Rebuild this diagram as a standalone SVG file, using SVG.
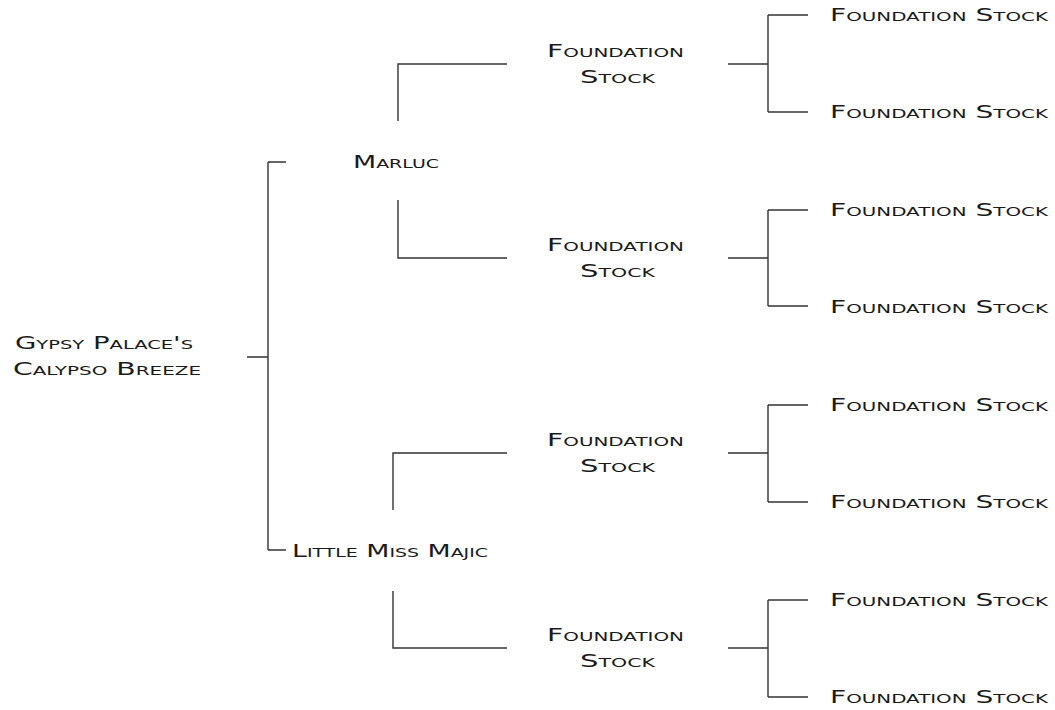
<svg xmlns="http://www.w3.org/2000/svg" width="1055" height="710" viewBox="0 0 1055 710">
<style>
text{font-family:"DejaVu Sans","Liberation Sans",sans-serif;font-size:17px;font-variant:small-caps;fill:#1a1a1a}
.c path{fill:none;stroke:#333;stroke-width:1.4}
</style>
<rect width="1055" height="710" fill="#fff"/>
<g class="c" id="connectors">
<path d="M247 357H268M268 162V550M268 162H286M268 550H286"/>
<path d="M398 121V64H507M398 200V258H507"/>
<path d="M393 510V453H507M393 591V648H507"/>
<path d="M728 64H768M768 15V112M768 15H808M768 112H808"/>
<path d="M728 258H768M768 210V306M768 210H808M768 306H808"/>
<path d="M728 453H768M768 405V502M768 405H808M768 502H808"/>
<path d="M728 648H768M768 600V697M768 600H808M768 697H808"/>
</g>
<g id="root"><text x="15" y="349" textLength="178" lengthAdjust="spacingAndGlyphs">Gypsy Palace's</text><text x="13" y="375" textLength="188" lengthAdjust="spacingAndGlyphs">Calypso Breeze</text></g>
<g id="marluc"><text x="353" y="168" textLength="86" lengthAdjust="spacingAndGlyphs">Marluc</text></g>
<g id="majic"><text x="292" y="557" textLength="196" lengthAdjust="spacingAndGlyphs">Little Miss Majic</text></g>
<g id="fs1"><text x="547" y="57" textLength="137" lengthAdjust="spacingAndGlyphs">Foundation</text><text x="580" y="83" textLength="75" lengthAdjust="spacingAndGlyphs">Stock</text></g>
<g id="fs2"><text x="547" y="251" textLength="137" lengthAdjust="spacingAndGlyphs">Foundation</text><text x="580" y="277" textLength="75" lengthAdjust="spacingAndGlyphs">Stock</text></g>
<g id="fs3"><text x="547" y="446" textLength="137" lengthAdjust="spacingAndGlyphs">Foundation</text><text x="580" y="472" textLength="75" lengthAdjust="spacingAndGlyphs">Stock</text></g>
<g id="fs4"><text x="547" y="641" textLength="137" lengthAdjust="spacingAndGlyphs">Foundation</text><text x="580" y="667" textLength="75" lengthAdjust="spacingAndGlyphs">Stock</text></g>
<g id="g1"><text x="830" y="21" textLength="218" lengthAdjust="spacingAndGlyphs">Foundation Stock</text></g>
<g id="g2"><text x="830" y="118" textLength="218" lengthAdjust="spacingAndGlyphs">Foundation Stock</text></g>
<g id="g3"><text x="830" y="216" textLength="218" lengthAdjust="spacingAndGlyphs">Foundation Stock</text></g>
<g id="g4"><text x="830" y="313" textLength="218" lengthAdjust="spacingAndGlyphs">Foundation Stock</text></g>
<g id="g5"><text x="830" y="411" textLength="218" lengthAdjust="spacingAndGlyphs">Foundation Stock</text></g>
<g id="g6"><text x="830" y="508" textLength="218" lengthAdjust="spacingAndGlyphs">Foundation Stock</text></g>
<g id="g7"><text x="830" y="606" textLength="218" lengthAdjust="spacingAndGlyphs">Foundation Stock</text></g>
<g id="g8"><text x="830" y="703" textLength="218" lengthAdjust="spacingAndGlyphs">Foundation Stock</text></g>
</svg>
